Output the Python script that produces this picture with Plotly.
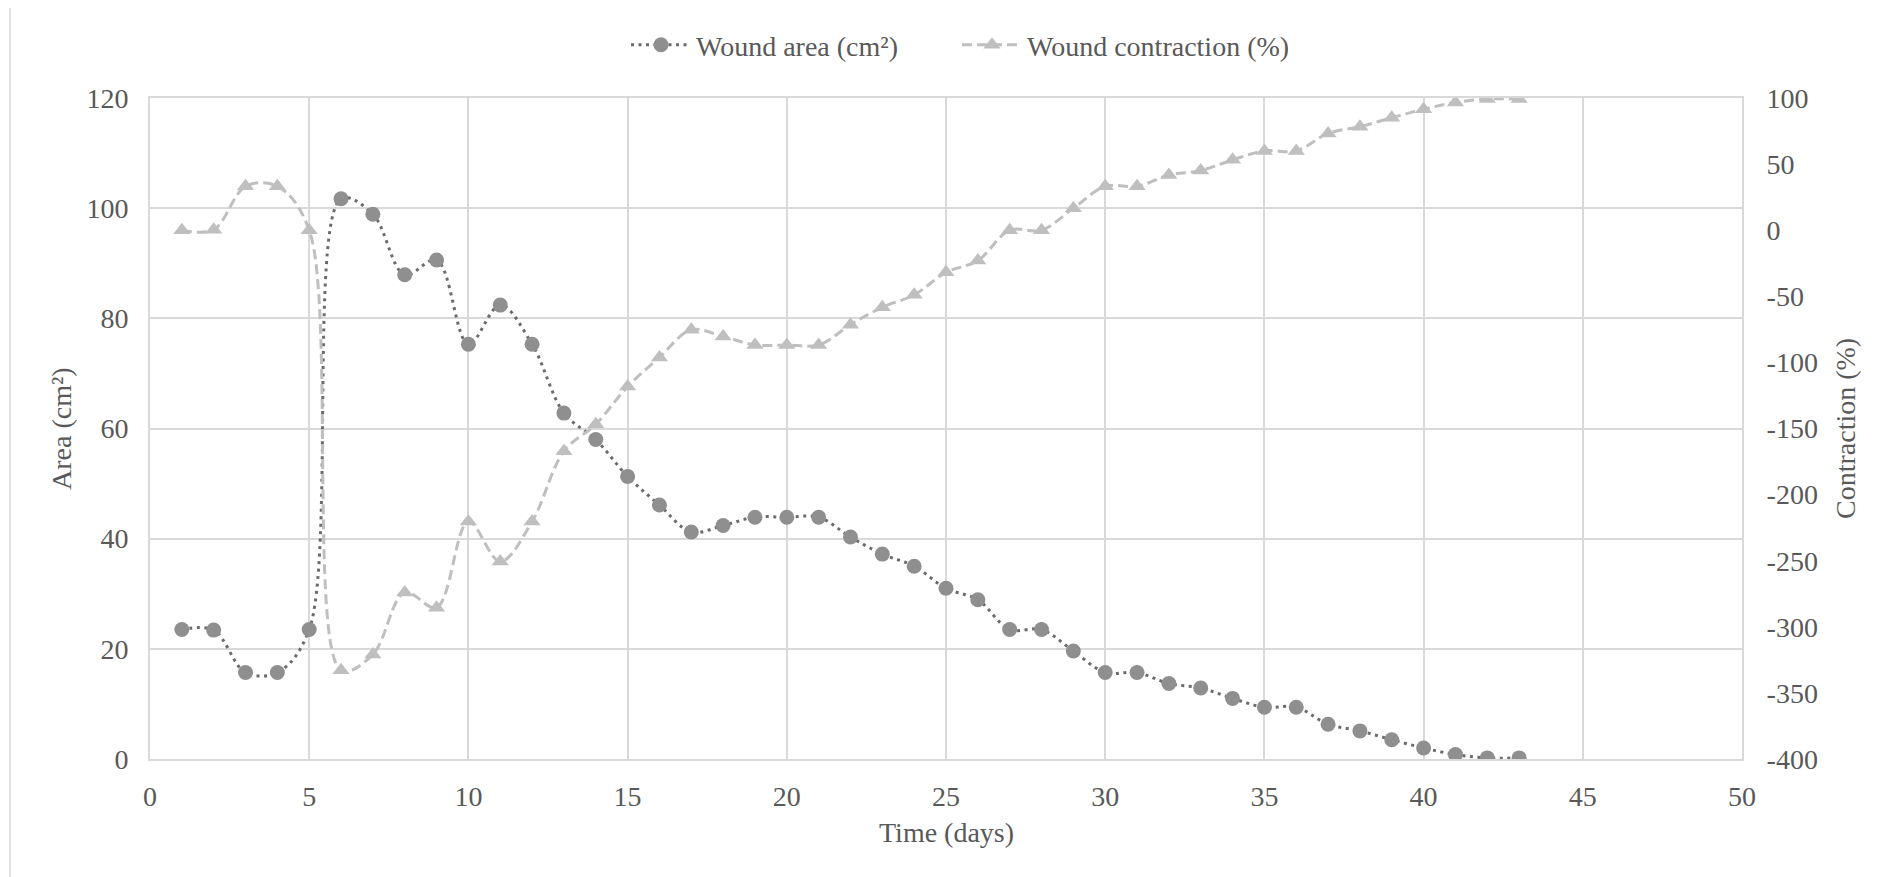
import plotly.graph_objects as go

days = list(range(1, 44))
wound_area = [23.5, 23.4, 15.7, 15.7, 23.5, 101.7, 98.9, 87.9, 90.6, 75.3,
              82.4, 75.3, 62.8, 58.0, 51.3, 46.1, 41.2, 42.4, 43.9, 43.9,
              43.9, 40.3, 37.2, 35.0, 31.0, 28.9, 23.5, 23.5, 19.6, 15.7,
              15.7, 13.7, 12.9, 11.0, 9.4, 9.4, 6.3, 5.1, 3.5, 2.0,
              0.8, 0.2, 0.2]
wound_contraction = [0.0, 0.4, 33.2, 33.2, 0.0, -332.8, -320.9, -274.0, -285.5, -220.4,
                     -250.6, -220.4, -167.2, -146.8, -118.3, -96.2, -75.3, -80.4, -86.8, -86.8,
                     -86.8, -71.5, -58.3, -48.9, -31.9, -23.0, 0.0, 0.0, 16.6, 33.2,
                     33.2, 41.7, 45.1, 53.2, 60.0, 60.0, 73.2, 78.3, 85.1, 91.5,
                     96.6, 99.2, 99.2]

x_ticks = [0, 5, 10, 15, 20, 25, 30, 35, 40, 45, 50]
left_ticks = [0, 20, 40, 60, 80, 100, 120]
right_ticks = [-400, -350, -300, -250, -200, -150, -100, -50, 0, 50, 100]
right_tick_labels = [str(v) for v in right_ticks]

FONT = "Times New Roman"
FS = 28
TXT = "#595959"
GRID = "#d9d9d9"

fig = go.Figure()
fig.add_trace(go.Scatter(
    x=days, y=wound_area, name="Wound area (cm²)", mode="lines+markers",
    line=dict(color="#6b6b6b", width=3, dash="3px,4.5px", shape="spline", smoothing=1.0),
    marker=dict(symbol="circle", size=15, color="#8f8f8f"),
    yaxis="y"))
fig.add_trace(go.Scatter(
    x=days, y=wound_contraction, name="Wound contraction (%)", mode="lines+markers",
    line=dict(color="#bfbfbf", width=3, dash="10px,5px", shape="spline", smoothing=1.0),
    marker=dict(symbol="triangle-up", size=15, color="#bfbfbf"),
    yaxis="y2"))

OFF = 8  # page offset of the figure inside the browser window
W, H = 1885 - OFF, 877 - OFF
L, R, T, B = 150 - OFF, 1742 - OFF, 98 - OFF, 759 - OFF
pw, ph = R - L, B - T

def px(xp):
    return (xp - OFF - L) / pw

def py(yp):
    return (B - (yp - OFF)) / ph

fig.update_layout(
    width=W, height=H,
    margin=dict(l=L, r=W - R, t=T, b=H - B, autoexpand=False),
    paper_bgcolor="white", plot_bgcolor="white",
    font=dict(family=FONT, size=FS, color=TXT),
    showlegend=True,
    legend=dict(orientation="h", x=px(626), xanchor="left", y=py(45), yanchor="middle",
                font=dict(family=FONT, size=FS, color=TXT), itemwidth=60,
                entrywidth=256, entrywidthmode="pixels",
                bgcolor="rgba(0,0,0,0)"),
    xaxis=dict(range=[0, 50], tickvals=x_ticks, ticktext=[str(v) for v in x_ticks],
               showgrid=True, gridcolor=GRID, gridwidth=1.75,
               showline=True, linecolor=GRID, linewidth=1.75, mirror=True,
               zeroline=False, ticks="outside", ticklen=12, tickcolor="rgba(0,0,0,0)",
               tickfont=dict(family=FONT, size=FS, color=TXT)),
    yaxis=dict(range=[0, 120], tickvals=left_ticks, ticktext=[str(v) for v in left_ticks],
               showgrid=True, gridcolor=GRID, gridwidth=1.75,
               showline=True, linecolor=GRID, linewidth=1.75, mirror=True,
               zeroline=False, ticks="outside", ticklen=14, tickcolor="rgba(0,0,0,0)",
               tickfont=dict(family=FONT, size=FS, color=TXT)),
    yaxis2=dict(range=[-400, 100], overlaying="y", side="right",
                tickvals=right_ticks, ticktext=right_tick_labels,
                showgrid=False, zeroline=False, showline=False,
                ticks="outside", ticklen=18, tickcolor="rgba(0,0,0,0)",
                tickfont=dict(family=FONT, size=FS, color=TXT)),
)

fig.add_annotation(text="Area (cm²)", xref="paper", yref="paper", x=px(61), y=py(429),
                   textangle=-90, showarrow=False, xanchor="center", yanchor="middle",
                   font=dict(family=FONT, size=FS, color=TXT))
fig.add_annotation(text="Contraction (%)", xref="paper", yref="paper", x=px(1845), y=py(429),
                   textangle=-90, showarrow=False, xanchor="center", yanchor="middle",
                   font=dict(family=FONT, size=FS, color=TXT))
fig.add_annotation(text="Time (days)", xref="paper", yref="paper", x=px(946), y=py(832),
                   showarrow=False, xanchor="center", yanchor="middle",
                   font=dict(family=FONT, size=FS, color=TXT))

fig.add_shape(type="rect", xref="paper", yref="paper",
              x0=px(10), y0=py(890), x1=px(1895), y1=py(7),
              line=dict(color=GRID, width=1.5), fillcolor="rgba(0,0,0,0)", layer="below")

fig.write_html("out.html")
